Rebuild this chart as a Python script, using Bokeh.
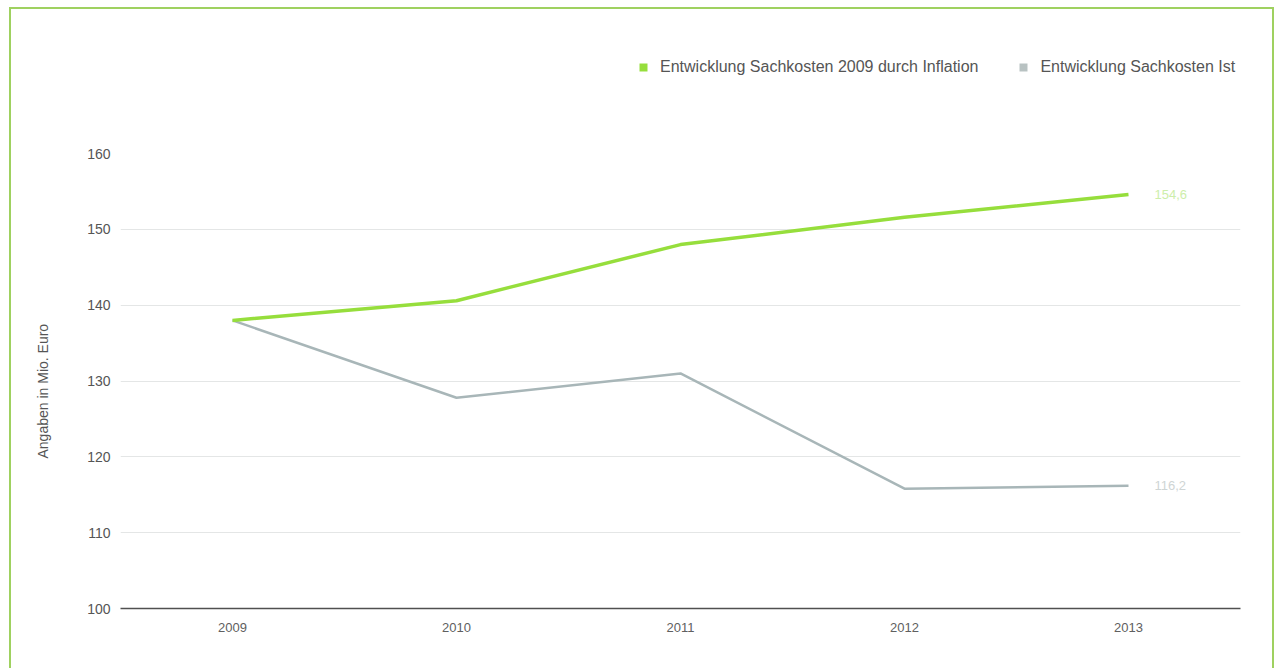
from bokeh.plotting import figure
from bokeh.models import (Range1d, FixedTicker, Legend, LegendItem, ColumnDataSource, Title)
from bokeh.core.properties import value
from bokeh.embed import file_html
from bokeh.resources import INLINE

years = [2009, 2010, 2011, 2012, 2013]
inflation = [138.0, 140.6, 148.0, 151.6, 154.6]
ist = [138.0, 127.8, 131.0, 115.8, 116.2]
inflation_label = "154,6"
ist_label = "116,2"
series_names = ["Entwicklung Sachkosten 2009 durch Inflation", "Entwicklung Sachkosten Ist"]
y_axis_title = "Angaben in Mio. Euro"
y_ticks = [100, 110, 120, 130, 140, 150, 160]
grid_ticks = [110, 120, 130, 140, 150]

FONT = "Liberation Sans"
GREEN = "#96de3c"
GRAY = "#a8b6b8"

frame_css = """
:host::after {
  content: "";
  position: absolute;
  left: 9px;
  top: 7px;
  width: 1261px;
  height: 662px;
  border: 2.5px solid #9fd160;
  pointer-events: none;
  z-index: 10;
}
"""

p = figure(width=1278, height=668, output_backend="svg", toolbar_location=None,
           x_range=Range1d(2008.5, 2013.5), y_range=Range1d(100, 173.6),
           min_border_left=120, min_border_right=38, min_border_top=50, min_border_bottom=60,
           background_fill_color="#ffffff", border_fill_color="#ffffff",
           stylesheets=[frame_css])
p.outline_line_color = None

# axes
p.xaxis.ticker = FixedTicker(ticks=years)
p.xaxis.axis_line_color = "#505050"
p.xaxis.axis_line_width = 1.5
p.xaxis.major_tick_line_color = None
p.xaxis.minor_tick_line_color = None
p.xaxis.major_label_standoff = 8
p.xaxis.major_label_text_font = FONT
p.xaxis.major_label_text_font_size = "13px"
p.xaxis.major_label_text_color = "#606060"

p.yaxis.ticker = FixedTicker(ticks=y_ticks)
p.yaxis.axis_line_color = None
p.yaxis.major_tick_line_color = None
p.yaxis.minor_tick_line_color = None
p.yaxis.major_label_standoff = 4
p.yaxis.major_label_text_font = FONT
p.yaxis.major_label_text_font_size = "14px"
p.yaxis.major_label_text_color = "#555555"

# vertical axis title, placed like the original (centred on the 100-160 span)
ytitle = Title(text=y_axis_title, align="left", vertical_align="middle",
               offset=150, standoff=66,
               text_font=FONT, text_font_size="14px", text_font_style="normal",
               text_color="#555555")
p.add_layout(ytitle, "left")

p.xgrid.grid_line_color = None
p.ygrid.ticker = FixedTicker(ticks=grid_ticks)
p.ygrid.grid_line_color = "#e4e6e6"
p.ygrid.grid_line_width = 1

# lines
src = ColumnDataSource(dict(x=years, inf=inflation, ist=ist))
p.line("x", "ist", source=src, line_color=GRAY, line_width=2.5)
p.line("x", "inf", source=src, line_color=GREEN, line_width=3.5)

# end labels
lab = ColumnDataSource(dict(x=[years[-1], years[-1]], y=[inflation[-1], ist[-1]],
                            t=[inflation_label, ist_label], c=["#cdeeaa", "#cfd5d5"]))
p.text("x", "y", text="t", source=lab, x_offset=26, text_color="c",
       text_font=value(FONT), text_font_size="13px", text_baseline="middle")

# legend with square markers (zero-size markers on the data, squares only in legend)
g1 = p.scatter("x", "inf", source=src, marker="square", size=0, fill_color=GREEN, line_color=None)
g2 = p.scatter("x", "ist", source=src, marker="square", size=0, fill_color="#b8c2c2", line_color=None)
legend = Legend(items=[LegendItem(label=series_names[0], renderers=[g1], index=0),
                       LegendItem(label=series_names[1], renderers=[g2], index=0)],
                orientation="horizontal", location=(513, 531),
                padding=0, margin=0, spacing=35, label_standoff=7,
                glyph_width=20, glyph_height=20,
                border_line_color=None, background_fill_alpha=0,
                label_text_font=FONT, label_text_font_size="16px",
                label_text_color="#555555")
p.add_layout(legend, "center")

open("out.html", "w").write(file_html(p, INLINE))
